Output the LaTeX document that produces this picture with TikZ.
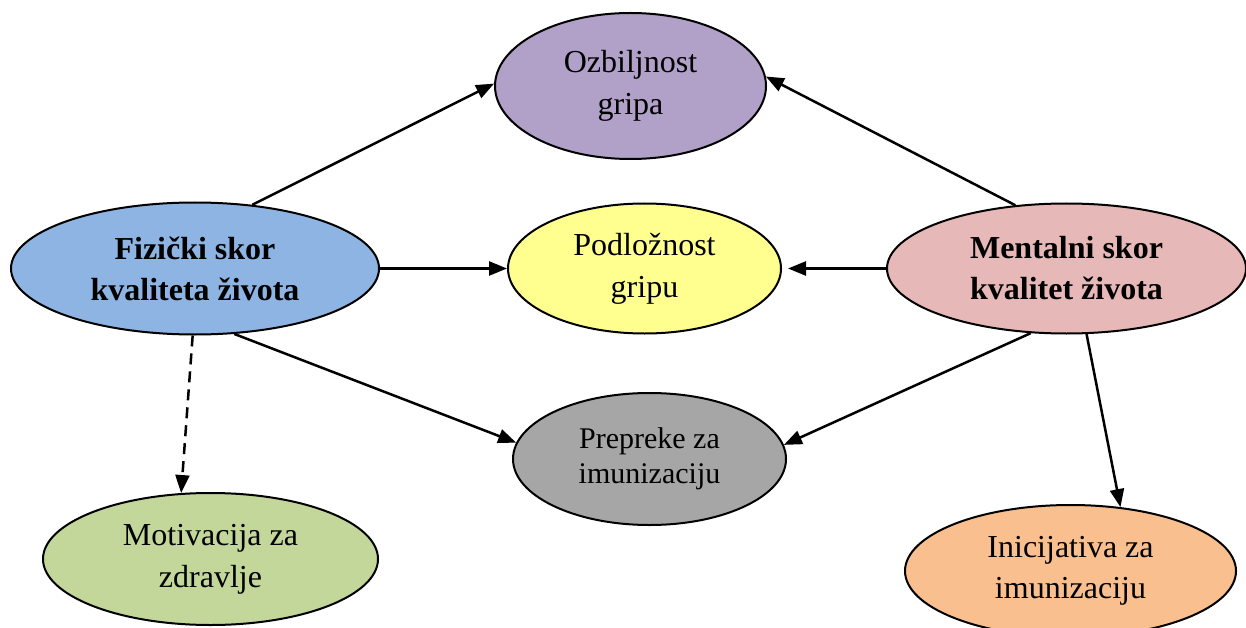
\documentclass[tikz,border=0pt]{standalone}
\usepackage{fontspec}
\setmainfont{Liberation Serif}
\usetikzlibrary{shapes.geometric,arrows.meta}

\definecolor{cPurple}{HTML}{B1A0C7}
\definecolor{cBlue}{HTML}{8DB4E2}
\definecolor{cYellow}{HTML}{FFFF8F}
\definecolor{cPink}{HTML}{E6B8B7}
\definecolor{cGray}{HTML}{A6A6A6}
\definecolor{cGreen}{HTML}{C4D79B}
\definecolor{cOrange}{HTML}{FABF8F}

\tikzset{
  oval/.style={ellipse, draw=black, line width=2pt, inner sep=0pt,
    align=center, font=\fontsize{32}{42}\selectfont},
  link/.style={line width=2.5pt, -{Triangle[length=18pt,width=14pt]}},
  dashlink/.style={link, dash pattern=on 11pt off 7pt}
}

\begin{document}
\begin{tikzpicture}[x=1pt,y=-1pt]
  \useasboundingbox (0,0) rectangle (1246,628);

  % outcome and predictor ellipses
  \node[oval, fill=cPurple, minimum width=271pt, minimum height=146pt] (ozb) at (630.5,86) {Ozbiljnost\\gripa};
  \node[oval, fill=cBlue, minimum width=368pt, minimum height=132pt, font=\bfseries\fontsize{32}{41}\selectfont] (fiz) at (195,268.5) {Fizički skor\\kvaliteta života};
  \node[oval, fill=cYellow, minimum width=273pt, minimum height=130pt] (pod) at (644.5,268.5) {Podložnost\\gripu};
  \node[oval, fill=cPink, minimum width=359pt, minimum height=130pt, font=\bfseries\fontsize{32}{41}\selectfont] (men) at (1066.5,268.5) {Mentalni skor\\kvalitet života};
  \node[oval, fill=cGray, minimum width=273pt, minimum height=132pt, font=\fontsize{30}{35}\selectfont] (prep) at (649.5,459) {Prepreke za\\imunizaciju};
  \node[oval, fill=cGreen, minimum width=335pt, minimum height=132pt] (mot) at (210.5,559) {Motivacija za\\zdravlje};
  \node[oval, fill=cOrange, minimum width=331pt, minimum height=132pt, font=\fontsize{32}{41}\selectfont] (ini) at (1070.5,571) {Inicijativa za\\imunizaciju};

  % connections
  \draw[link] (fiz.48) -- (ozb.179);
  \draw[link] (men.129) -- (ozb.4);
  \draw[link] (fiz.east) -- (pod.west);
  \draw[link] (men.west) -- ([xshift=6pt]pod.east);
  \draw[link] (fiz.-59) -- (prep.173);
  \draw[link] (men.241) -- (prep.6);
  \draw[dashlink] (fiz.268) -- (mot.114);
  \draw[link] (men.-73) -- (ini.52);
\end{tikzpicture}
\end{document}
